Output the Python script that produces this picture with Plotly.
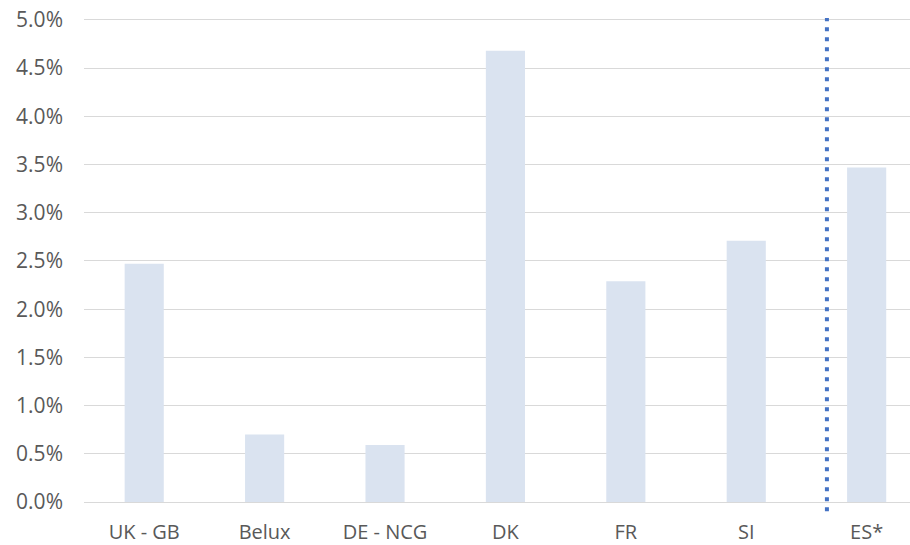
import plotly.graph_objects as go

categories = ["UK - GB", "Belux", "DE - NCG", "DK", "FR", "SI", "ES*"]
values = [0.0247, 0.0070, 0.0059, 0.0468, 0.0229, 0.0271, 0.0347]
y_ticks = [0.0, 0.005, 0.01, 0.015, 0.02, 0.025, 0.03, 0.035, 0.04, 0.045, 0.05]
divider_x = 5.67          # position of the dotted divider between SI and ES*
divider_span = [-0.019, 0.998]   # in plot-height fractions

fig = go.Figure()
fig.add_trace(go.Bar(
    x=categories, y=values,
    marker=dict(color="#DAE3F0", line=dict(width=0)),
    width=0.325,
))

fig.add_shape(type="line", xref="x", yref="paper",
              x0=divider_x, x1=divider_x, y0=divider_span[0], y1=divider_span[1],
              line=dict(color="#4472C4", width=4, dash="4px,6px"))

fig.update_layout(
    width=910, height=545,
    margin=dict(l=84, r=0, t=17, b=43),
    plot_bgcolor="white", paper_bgcolor="white",
    showlegend=False,
    font=dict(family="Open Sans", size=21, color="#595959"),
    bargap=0.675,
)
fig.update_xaxes(
    range=[-0.5, 6.36], showgrid=False, showline=False, zeroline=False,
    ticks="", ticklabelstandoff=16,
    tickfont=dict(size=20, color="#595959"),
)
fig.update_yaxes(
    range=[0, 0.0503], tickvals=y_ticks, tickformat=".1%",
    showgrid=True, gridcolor="#D9D9D9", gridwidth=1.3,
    zeroline=True, zerolinecolor="#D9D9D9", zerolinewidth=1.3,
    showline=False, ticks="", ticklabelstandoff=20,
    tickfont=dict(size=21, color="#595959"),
)

fig.write_html("out.html",
               config={"displayModeBar": False},
               post_script="document.body.style.margin='0';document.body.style.overflow='hidden';")
